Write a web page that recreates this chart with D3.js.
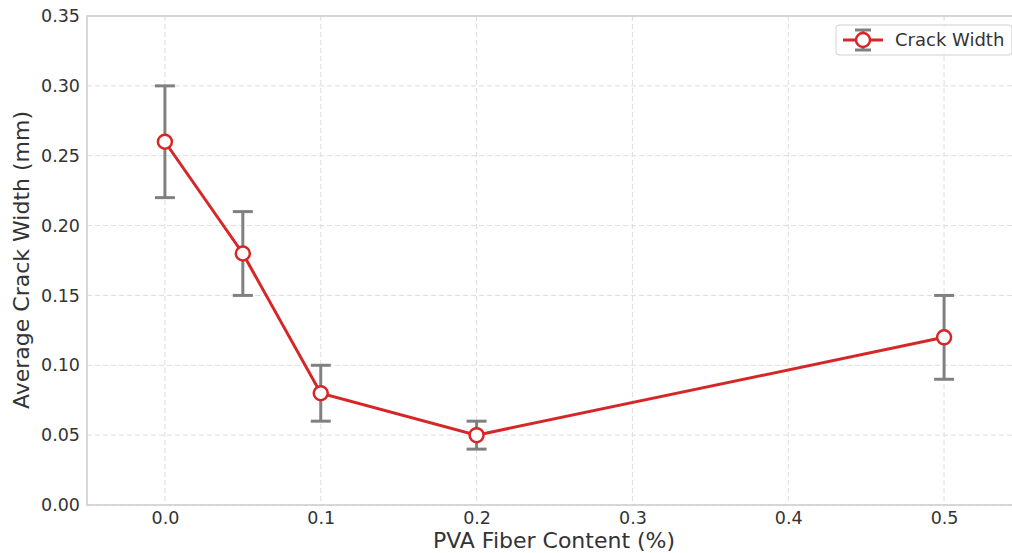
<!DOCTYPE html>
<html>
<head>
<meta charset="UTF-8">
<title>Crack Width</title>
<script src="https://cdn.jsdelivr.net/npm/d3@7/dist/d3.min.js"></script>
<style>
  body { margin: 0; background: #fff; }
  text { font-family: "DejaVu Sans", sans-serif; fill: #333; }
</style>
</head>
<body>
<svg width="1012" height="553"></svg>
<script>
// data
var fiber = [0.0, 0.05, 0.1, 0.2, 0.5];
var crackWidth = [0.26, 0.18, 0.08, 0.05, 0.12];
var crackErr = [0.04, 0.03, 0.02, 0.01, 0.03];
var xTicks = [0.0, 0.1, 0.2, 0.3, 0.4, 0.5];
var yTicks = [0.00, 0.05, 0.10, 0.15, 0.20, 0.25, 0.30, 0.35];

var svg = d3.select("svg");
var pLeft = 87, pRight = 1022, pTop = 16, pBottom = 505;

var x = d3.scaleLinear().domain([-0.05, 0.55]).range([pLeft, pRight]);
var y = d3.scaleLinear().domain([0, 0.35]).range([pBottom, pTop]);

// grid
var grid = svg.append("g");
grid.selectAll(".gx").data(xTicks).enter().append("line")
  .attr("x1", d => x(d)).attr("x2", d => x(d))
  .attr("y1", pTop).attr("y2", pBottom)
  .attr("stroke", "#dddddd").attr("stroke-width", 1).attr("stroke-dasharray", "5,3");
grid.selectAll(".gy").data(yTicks).enter().append("line")
  .attr("x1", pLeft).attr("x2", pRight)
  .attr("y1", d => y(d)).attr("y2", d => y(d))
  .attr("stroke", "#dddddd").attr("stroke-width", 1).attr("stroke-dasharray", "5,3");

// axes
var xAxis = svg.append("g").attr("transform", "translate(0," + pBottom + ")")
  .call(d3.axisBottom(x).tickValues(xTicks).tickFormat(d3.format(".1f")).tickSize(0).tickPadding(7));
var yAxis = svg.append("g").attr("transform", "translate(" + pLeft + ",0)")
  .call(d3.axisLeft(y).tickValues(yTicks).tickFormat(d3.format(".2f")).tickSize(0).tickPadding(7));
[xAxis, yAxis].forEach(function(a) {
  a.select(".domain").remove();
  a.selectAll("text").style("font-size", "17.5px").attr("fill", "#333");
});

// frame
svg.append("rect").attr("x", pLeft).attr("y", pTop)
  .attr("width", pRight - pLeft).attr("height", pBottom - pTop)
  .attr("fill", "none").attr("stroke", "#cccccc").attr("stroke-width", 1.5);

// error bars
var pts = fiber.map(function(f, i) { return {x: f, y: crackWidth[i], e: crackErr[i]}; });
var eb = svg.append("g").selectAll("g").data(pts).enter().append("g")
  .attr("stroke", "#808080").attr("stroke-width", 3);
eb.append("line")
  .attr("x1", d => x(d.x)).attr("x2", d => x(d.x))
  .attr("y1", d => y(d.y - d.e)).attr("y2", d => y(d.y + d.e));
eb.append("line")
  .attr("x1", d => x(d.x) - 10).attr("x2", d => x(d.x) + 10)
  .attr("y1", d => y(d.y - d.e)).attr("y2", d => y(d.y - d.e));
eb.append("line")
  .attr("x1", d => x(d.x) - 10).attr("x2", d => x(d.x) + 10)
  .attr("y1", d => y(d.y + d.e)).attr("y2", d => y(d.y + d.e));

// line
svg.append("path").datum(pts)
  .attr("d", d3.line().x(d => x(d.x)).y(d => y(d.y)))
  .attr("fill", "none").attr("stroke", "#d62728").attr("stroke-width", 3);

svg.append("g").selectAll("circle").data(pts).enter().append("circle")
  .attr("cx", d => x(d.x)).attr("cy", d => y(d.y)).attr("r", 7)
  .attr("fill", "#fff").attr("stroke", "#d62728").attr("stroke-width", 2.5);

// axis labels
svg.append("text").attr("x", 554).attr("y", 548)
  .attr("text-anchor", "middle").style("font-size", "22px")
  .text("PVA Fiber Content (%)");
svg.append("text").attr("transform", "translate(29,260) rotate(-90)")
  .attr("text-anchor", "middle").style("font-size", "22px")
  .text("Average Crack Width (mm)");

// legend
var lg = svg.append("g").attr("transform", "translate(836,25)");
lg.append("rect").attr("width", 176).attr("height", 30).attr("rx", 3)
  .attr("fill", "#fff").attr("fill-opacity", 0.8).attr("stroke", "#d0d0d0");
lg.append("line").attr("x1", 7).attr("x2", 47).attr("y1", 15).attr("y2", 15)
  .attr("stroke", "#d62728").attr("stroke-width", 3);
lg.append("line").attr("x1", 27).attr("x2", 27).attr("y1", 5).attr("y2", 25)
  .attr("stroke", "#808080").attr("stroke-width", 3);
lg.append("line").attr("x1", 19).attr("x2", 35).attr("y1", 5).attr("y2", 5)
  .attr("stroke", "#808080").attr("stroke-width", 3);
lg.append("line").attr("x1", 19).attr("x2", 35).attr("y1", 25).attr("y2", 25)
  .attr("stroke", "#808080").attr("stroke-width", 3);
lg.append("circle").attr("cx", 27).attr("cy", 15).attr("r", 7)
  .attr("fill", "#fff").attr("stroke", "#d62728").attr("stroke-width", 2.5);
lg.append("text").attr("x", 59).attr("y", 20.5).style("font-size", "18px").text("Crack Width");
</script>
</body>
</html>
